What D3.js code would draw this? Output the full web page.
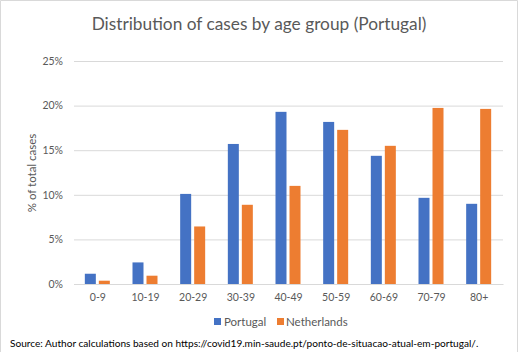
<!DOCTYPE html>
<html><head><meta charset="utf-8">
<script src="https://cdn.jsdelivr.net/npm/d3@7"></script>
<style>body{margin:0;background:#fff}svg{display:block}</style>
</head><body>
<svg id="c" width="519" height="352"></svg>
<script>
const categories = ["0-9","10-19","20-29","30-39","40-49","50-59","60-69","70-79","80+"];
const portugal = [1.15,2.42,10.1,15.7,19.3,18.17,14.37,9.66,8.99];
const netherlands = [0.37,0.93,6.45,8.88,11.0,17.28,15.49,19.74,19.63];
const seriesNames = ["Portugal","Netherlands"];
const yTicks = [0,5,10,15,20,25];

const colors = ["#4472C4","#ED7D31"];
const font = "Lato, 'Open Sans', sans-serif";
const svg = d3.select("#c");

// border
svg.append("path").attr("d","M0.5,352V0.5H517.5V352").attr("fill","none").attr("stroke","#D9D9D9");

const m = {left:74, right:503, top:61, bottom:284};
const x = d3.scaleBand().domain(categories).range([m.left,m.right]).paddingInner(0).paddingOuter(0);
const y = d3.scaleLinear().domain([0,25]).range([m.bottom,m.top]);

// title
svg.append("text").attr("x",259).attr("y",30).attr("text-anchor","middle")
  .attr("font-family",font).attr("font-size",17.3).attr("fill","#595959")
  .text("Distribution of cases by age group (Portugal)");

// grid
const ya = d3.axisLeft(y).tickValues(yTicks).tickFormat(d=>d+"%").tickSize(-(m.right-m.left)).tickPadding(11);
const g = svg.append("g").attr("transform",`translate(${m.left},0)`).call(ya);
g.select(".domain").remove();
g.selectAll(".tick line").attr("stroke","#D9D9D9");
g.selectAll(".tick text").attr("font-family",font).attr("font-size",10.5).attr("fill","#595959");

// bars
const bw = 11, gap = 3;
const data = [portugal, netherlands];
data.forEach((vals,si)=>{
  svg.append("g").selectAll("rect").data(vals).join("rect")
    .attr("x",(d,i)=>x(categories[i]) + x.bandwidth()/2 - (bw*2+gap)/2 + si*(bw+gap) - 0.5)
    .attr("width",bw)
    .attr("y",d=>y(d))
    .attr("height",d=>y(0)-y(d))
    .attr("fill",colors[si]);
});

// x axis
const xa = d3.axisBottom(x).tickSize(0).tickPadding(10);
const gx = svg.append("g").attr("transform",`translate(0,${m.bottom})`).call(xa);
gx.select(".domain").attr("stroke","#D9D9D9");
gx.selectAll(".tick text").attr("font-family",font).attr("font-size",10.5).attr("fill","#595959");

// y title
svg.append("text").attr("transform","translate(36,173) rotate(-90)").attr("text-anchor","middle")
  .attr("font-family",font).attr("font-size",11.5).attr("fill","#595959").text("% of total cases");

// legend
const leg = [{x:214,tx:224},{x:277,tx:286}];
seriesNames.forEach((n,i)=>{
  svg.append("rect").attr("x",leg[i].x).attr("y",318).attr("width",7).attr("height",7).attr("fill",colors[i]);
  svg.append("text").attr("x",leg[i].tx).attr("y",326).attr("font-family",font).attr("font-size",11.5).attr("fill","#595959").text(n);
});

// source
svg.append("text").attr("x",10).attr("y",347).attr("font-family",font).attr("font-size",10.1).attr("fill","#000")
  .text("Source: Author calculations based on https://covid19.min-saude.pt/ponto-de-situacao-atual-em-portugal/.");
</script>
</body></html>
